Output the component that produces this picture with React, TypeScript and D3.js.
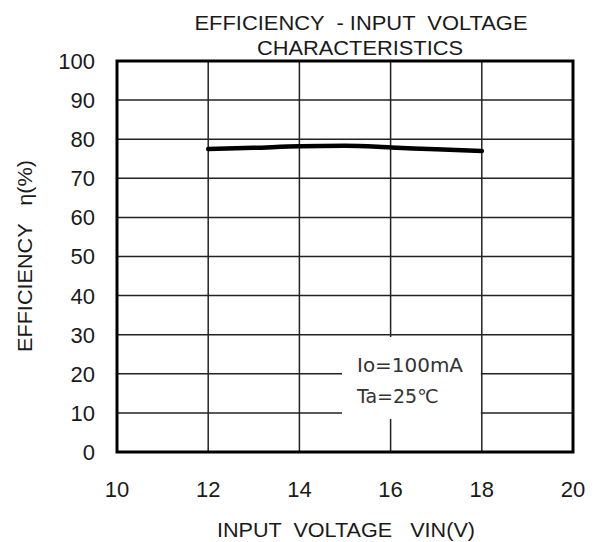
import React from 'react';
import * as d3 from 'd3';

// curve
const vin = [12, 13, 14, 15, 16, 17, 18];
const efficiency = [77.5, 77.8, 78.2, 78.3, 77.9, 77.4, 77.0];
const xTicks = [10, 12, 14, 16, 18, 20];
const yTicks = [0, 10, 20, 30, 40, 50, 60, 70, 80, 90, 100];
const titleLines = ['EFFICIENCY  - INPUT  VOLTAGE', 'CHARACTERISTICS'];
const noteLines = ['Io=100mA', 'Ta=25\u2103'];

const W = 596;
const H = 542;
const plot = { left: 117, right: 573, top: 61, bottom: 452 };
const font = 'Arial, "Liberation Sans", sans-serif';
const ink = '#1a1a1a';
const pre = { whiteSpace: 'pre' as const };

export default function App() {
  const x = d3.scaleLinear().domain([10, 20]).range([plot.left, plot.right]);
  const y = d3.scaleLinear().domain([0, 100]).range([plot.bottom, plot.top]);
  const pts: [number, number][] = vin.map((v, i) => [v, efficiency[i]]);
  const path = d3
    .line<[number, number]>()
    .x(d => x(d[0]))
    .y(d => y(d[1]))
    .curve(d3.curveMonotoneX)(pts) || '';

  // note box covers the grid left of the 18V line
  const boxX0 = 342, boxX1 = x(18) - 1, boxY0 = 337, boxY1 = 419;

  return (
    <svg width={W} height={H} style={{ position: 'absolute', left: 0, top: 0, background: '#fff' }}>
      <rect x={0} y={0} width={W} height={H} fill="#fff" />

      {/* title */}
      <text x={361} y={30} textAnchor="middle" fontFamily={font} fontSize={21} fill={ink} style={pre}
        textLength={333} lengthAdjust="spacingAndGlyphs">{titleLines[0]}</text>
      <text x={360} y={55} textAnchor="middle" fontFamily={font} fontSize={21} fill={ink}
        textLength={206} lengthAdjust="spacingAndGlyphs">{titleLines[1]}</text>

      {/* grid */}
      {xTicks.slice(1, -1).map(t => (
        <line key={'gx' + t} x1={x(t)} x2={x(t)} y1={plot.top} y2={plot.bottom} stroke="#222" strokeWidth={1.5} />
      ))}
      {yTicks.slice(1, -1).map(t => (
        <line key={'gy' + t} x1={plot.left} x2={plot.right} y1={y(t)} y2={y(t)} stroke="#222" strokeWidth={1.5} />
      ))}

      {/* note box */}
      <rect x={boxX0} y={boxY0} width={boxX1 - boxX0} height={boxY1 - boxY0} fill="#fff" />
      <text x={357} y={372} fontFamily='"DejaVu Sans", sans-serif' fontSize={19} fill="#333"
        textLength={106} lengthAdjust="spacingAndGlyphs">{noteLines[0]}</text>
      <text x={357} y={403} fontFamily='"DejaVu Sans", sans-serif' fontSize={19} fill="#333">{noteLines[1]}</text>

      {/* curve */}
      <path d={path} fill="none" stroke="#000" strokeWidth={4.5} strokeLinecap="round" />

      {/* frame */}
      <rect x={plot.left} y={plot.top} width={plot.right - plot.left} height={plot.bottom - plot.top}
        fill="none" stroke="#000" strokeWidth={3} />

      {/* y ticks */}
      {yTicks.map(t => (
        <text key={'ty' + t} x={95} y={y(t)} dy="0.36em" textAnchor="end" fontFamily={font} fontSize={22} fill={ink}>
          {t}
        </text>
      ))}
      {/* x ticks */}
      {xTicks.map(t => (
        <text key={'tx' + t} x={x(t)} y={497} textAnchor="middle" fontFamily={font} fontSize={22} fill={ink}>
          {t}
        </text>
      ))}

      {/* axis titles */}
      <text x={346} y={537} textAnchor="middle" fontFamily={font} fontSize={21} fill={ink} style={pre}
        textLength={258} lengthAdjust="spacingAndGlyphs">INPUT  VOLTAGE   VIN(V)</text>
      <text transform="translate(32,256) rotate(-90)" textAnchor="middle" fontFamily={font} fontSize={21} fill={ink}
        style={pre} textLength={192} lengthAdjust="spacingAndGlyphs">EFFICIENCY   η(%)</text>
    </svg>
  );
}
